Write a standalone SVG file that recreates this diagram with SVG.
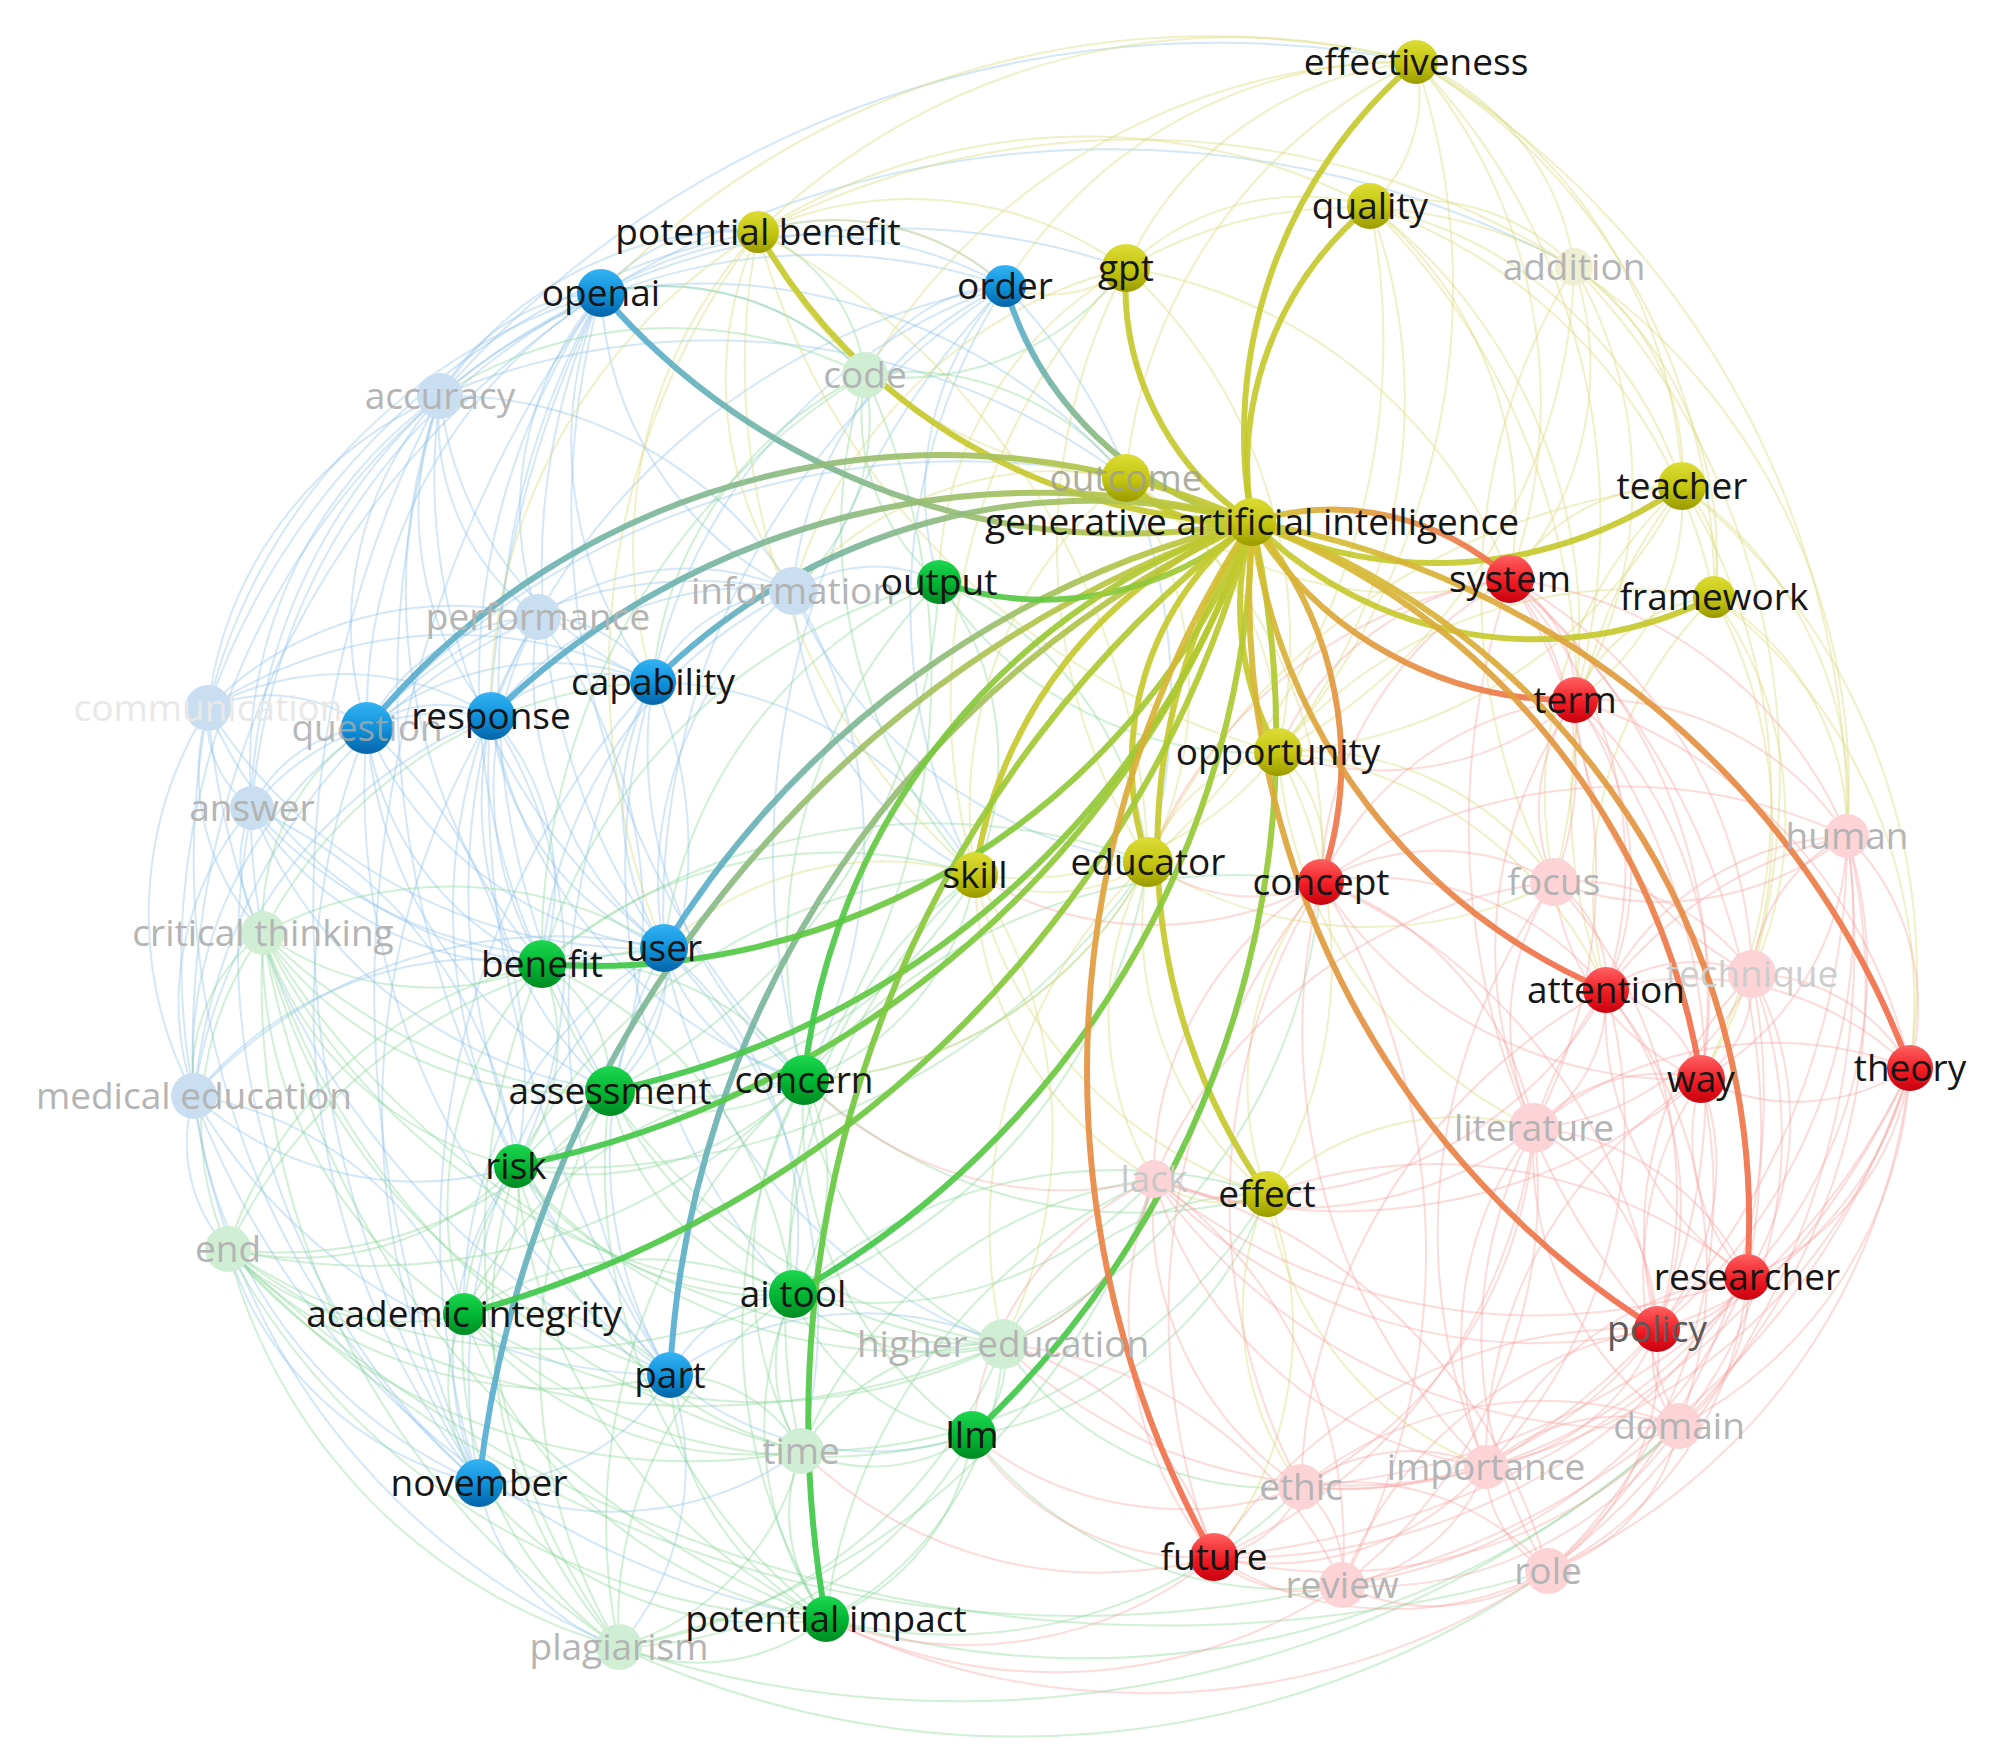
<svg xmlns="http://www.w3.org/2000/svg" width="2001" height="1746" viewBox="0 0 2001 1746">
<style>
.bb{fill:none;stroke:#8ec0ea;stroke-opacity:.38;stroke-width:2}
.bgn{fill:none;stroke:#86d496;stroke-opacity:.38;stroke-width:2}
.by{fill:none;stroke:#d8dc7c;stroke-opacity:.42;stroke-width:2}
.br{fill:none;stroke:#f6a0a0;stroke-opacity:.38;stroke-width:2}
.hl{fill:none;stroke-width:6;stroke-linecap:round;stroke-opacity:.92}
.hy{stroke:#c6c92c}
.lbl{font-family:"Open Sans","Noto Sans","Liberation Sans",sans-serif;font-size:37px;text-anchor:middle;fill:#161616}
.fl{fill:#b4b4b4}
.cy{fill:url(#ny)}.cr{fill:url(#nr)}.cg{fill:url(#ng)}.cb{fill:url(#nb)}
.fy{fill:#efefd3}.fr{fill:#fcd3d6}.fg{fill:#cfeed4}.fb{fill:#c9def1}
</style>
<defs>
<linearGradient id="ny" x1="0" y1="0" x2="0" y2="1"><stop offset="0" stop-color="#dcdc36"/><stop offset="0.55" stop-color="#c4c410"/><stop offset="1" stop-color="#9a9a00"/></linearGradient>
<linearGradient id="nr" x1="0" y1="0" x2="0" y2="1"><stop offset="0" stop-color="#ff6262"/><stop offset="0.55" stop-color="#f01c24"/><stop offset="1" stop-color="#c8000e"/></linearGradient>
<linearGradient id="ng" x1="0" y1="0" x2="0" y2="1"><stop offset="0" stop-color="#1ed650"/><stop offset="0.55" stop-color="#00b432"/><stop offset="1" stop-color="#008a22"/></linearGradient>
<linearGradient id="nb" x1="0" y1="0" x2="0" y2="1"><stop offset="0" stop-color="#34b4f4"/><stop offset="0.55" stop-color="#0e8ed8"/><stop offset="1" stop-color="#0664a8"/></linearGradient>
<linearGradient id="eB"><stop offset="0" stop-color="#c6c92c"/><stop offset="1" stop-color="#52acda"/></linearGradient>
<linearGradient id="eG"><stop offset="0" stop-color="#c6c92c"/><stop offset="1" stop-color="#36c84c"/></linearGradient>
<linearGradient id="eR"><stop offset="0" stop-color="#d2c432"/><stop offset="1" stop-color="#f4684e"/></linearGradient>
<linearGradient id="e-openai" href="#eB" gradientUnits="userSpaceOnUse" x1="1252" y1="522" x2="601" y2="293"/>
<linearGradient id="e-order" href="#eB" gradientUnits="userSpaceOnUse" x1="1252" y1="522" x2="1005" y2="286"/>
<linearGradient id="e-capability" href="#eB" gradientUnits="userSpaceOnUse" x1="1252" y1="522" x2="653" y2="682"/>
<linearGradient id="e-response" href="#eB" gradientUnits="userSpaceOnUse" x1="1252" y1="522" x2="491" y2="716"/>
<linearGradient id="e-question" href="#eB" gradientUnits="userSpaceOnUse" x1="1252" y1="522" x2="367" y2="728"/>
<linearGradient id="e-user" href="#eB" gradientUnits="userSpaceOnUse" x1="1252" y1="522" x2="664" y2="948"/>
<linearGradient id="e-part" href="#eB" gradientUnits="userSpaceOnUse" x1="1252" y1="522" x2="670" y2="1375"/>
<linearGradient id="e-november" href="#eB" gradientUnits="userSpaceOnUse" x1="1252" y1="522" x2="479" y2="1483"/>
<linearGradient id="e-output" href="#eG" gradientUnits="userSpaceOnUse" x1="1252" y1="522" x2="939" y2="582"/>
<linearGradient id="e-benefit" href="#eG" gradientUnits="userSpaceOnUse" x1="1252" y1="522" x2="542" y2="964"/>
<linearGradient id="e-assessment" href="#eG" gradientUnits="userSpaceOnUse" x1="1252" y1="522" x2="610" y2="1091"/>
<linearGradient id="e-concern" href="#eG" gradientUnits="userSpaceOnUse" x1="1252" y1="522" x2="804" y2="1080"/>
<linearGradient id="e-risk" href="#eG" gradientUnits="userSpaceOnUse" x1="1252" y1="522" x2="516" y2="1166"/>
<linearGradient id="e-academic" href="#eG" gradientUnits="userSpaceOnUse" x1="1252" y1="522" x2="464" y2="1314"/>
<linearGradient id="e-aitool" href="#eG" gradientUnits="userSpaceOnUse" x1="1252" y1="522" x2="793" y2="1294"/>
<linearGradient id="e-llm" href="#eG" gradientUnits="userSpaceOnUse" x1="1252" y1="522" x2="972" y2="1435"/>
<linearGradient id="e-pimpact" href="#eG" gradientUnits="userSpaceOnUse" x1="1252" y1="522" x2="826" y2="1619"/>
<linearGradient id="e-system" href="#eR" gradientUnits="userSpaceOnUse" x1="1252" y1="522" x2="1510" y2="579"/>
<linearGradient id="e-term" href="#eR" gradientUnits="userSpaceOnUse" x1="1252" y1="522" x2="1575" y2="700"/>
<linearGradient id="e-concept" href="#eR" gradientUnits="userSpaceOnUse" x1="1252" y1="522" x2="1321" y2="882"/>
<linearGradient id="e-attention" href="#eR" gradientUnits="userSpaceOnUse" x1="1252" y1="522" x2="1606" y2="990"/>
<linearGradient id="e-way" href="#eR" gradientUnits="userSpaceOnUse" x1="1252" y1="522" x2="1701" y2="1079"/>
<linearGradient id="e-theory" href="#eR" gradientUnits="userSpaceOnUse" x1="1252" y1="522" x2="1910" y2="1068"/>
<linearGradient id="e-researcher" href="#eR" gradientUnits="userSpaceOnUse" x1="1252" y1="522" x2="1747" y2="1277"/>
<linearGradient id="e-policy" href="#eR" gradientUnits="userSpaceOnUse" x1="1252" y1="522" x2="1657" y2="1329"/>
<linearGradient id="e-future" href="#eR" gradientUnits="userSpaceOnUse" x1="1252" y1="522" x2="1214" y2="1557"/>
</defs>
<rect width="2001" height="1746" fill="#ffffff"/>
<g id="connectors">
<g class="bb">
<path d="M440 396A191 191 0 0 1 601 293"/><path d="M440 396A389 389 0 0 0 208 708"/><path d="M440 396A340 340 0 0 0 367 728"/><path d="M440 396A324 324 0 0 0 491 716"/><path d="M440 396A453 453 0 0 0 252 808"/><path d="M440 396A742 742 0 0 0 194 1096"/><path d="M440 396A596 596 0 0 0 664 948"/><path d="M440 396A242 242 0 0 0 538 617"/><path d="M440 396A403 403 0 0 1 793 591"/><path d="M440 396A1088 1088 0 0 0 479 1483"/>
<path d="M601 293A572 572 0 0 0 208 708"/><path d="M601 293A494 494 0 0 0 367 728"/><path d="M601 293A622 622 0 0 0 252 808"/><path d="M601 293A900 900 0 0 0 194 1096"/><path d="M601 293A404 404 0 0 1 1005 286"/><path d="M601 293A330 330 0 0 0 538 617"/><path d="M601 293A392 392 0 0 0 653 682"/><path d="M601 293A354 354 0 0 0 793 591"/><path d="M601 293A658 658 0 0 0 664 948"/><path d="M601 293A1196 1196 0 0 0 479 1483"/><path d="M601 293A168 168 0 0 1 758 232"/>
<path d="M1005 286A371 371 0 0 0 793 591"/><path d="M1005 286A530 530 0 0 0 653 682"/><path d="M1005 286A670 670 0 0 0 491 716"/><path d="M1005 286A253 253 0 0 0 758 232"/><path d="M1005 286A745 745 0 0 0 664 948"/><path d="M1005 286A576 576 0 0 0 440 396"/>
<path d="M653 682A166 166 0 0 0 491 716"/><path d="M653 682A290 290 0 0 0 367 728"/><path d="M653 682A266 266 0 0 0 664 948"/><path d="M653 682A446 446 0 0 0 208 708"/><path d="M653 682A693 693 0 0 0 670 1375"/><path d="M653 682A820 820 0 0 0 479 1483"/>
<path d="M491 716A125 125 0 0 0 367 728"/><path d="M491 716A256 256 0 0 0 252 808"/><path d="M491 716A482 482 0 0 0 194 1096"/><path d="M491 716A289 289 0 0 0 664 948"/><path d="M491 716A767 767 0 0 0 479 1483"/><path d="M491 716A683 683 0 0 0 670 1375"/><path d="M491 716A283 283 0 0 0 208 708"/>
<path d="M367 728A160 160 0 0 0 208 708"/><path d="M367 728A140 140 0 0 0 252 808"/><path d="M367 728A407 407 0 0 0 194 1096"/><path d="M367 728A370 370 0 0 0 664 948"/><path d="M367 728A763 763 0 0 0 479 1483"/><path d="M367 728A714 714 0 0 0 670 1375"/>
<path d="M208 708A109 109 0 0 0 252 808"/><path d="M208 708A388 388 0 0 0 194 1096"/><path d="M208 708A821 821 0 0 0 479 1483"/><path d="M208 708A515 515 0 0 0 664 948"/>
<path d="M252 808A294 294 0 0 0 194 1096"/><path d="M252 808A712 712 0 0 0 479 1483"/><path d="M252 808A435 435 0 0 0 664 948"/>
<path d="M194 1096A481 481 0 0 0 479 1483"/><path d="M194 1096A552 552 0 0 0 670 1375"/><path d="M194 1096A493 493 0 0 1 664 948"/>
<path d="M664 948A427 427 0 0 0 670 1375"/><path d="M664 948A566 566 0 0 0 479 1483"/><path d="M670 1375A219 219 0 0 1 479 1483"/>
<path d="M538 617A204 204 0 0 0 367 728"/><path d="M538 617A342 342 0 0 0 208 708"/><path d="M538 617A590 590 0 0 0 194 1096"/>
<path d="M793 591A380 380 0 0 0 664 948"/><path d="M793 591A447 447 0 0 0 367 728"/><path d="M793 591A167 167 0 0 0 653 682"/>
<path d="M479 1483A216 216 0 0 0 619 1647"/><path d="M194 1096A157 157 0 0 0 228 1249"/><path d="M208 708A232 232 0 0 0 263 933"/><path d="M479 1483A343 343 0 0 1 228 1249"/>
<path d="M440 396A358 358 0 0 1 758 232"/><path d="M440 396A1006 1006 0 0 0 670 1375"/><path d="M601 293A1084 1084 0 0 0 670 1375"/><path d="M208 708A811 811 0 0 0 670 1375"/>
<path d="M194 1096A696 696 0 0 0 619 1647"/><path d="M194 1096A820 820 0 0 0 826 1619"/><path d="M440 396A1032 1032 0 0 1 1416 62"/><path d="M440 396A698 698 0 0 1 1126 268"/><path d="M601 293A973 973 0 0 1 1574 267"/><path d="M208 708A727 727 0 0 1 758 232"/>
<path d="M367 728A294 294 0 0 0 542 964"/><path d="M491 716A393 393 0 0 0 610 1091"/><path d="M653 682A426 426 0 0 0 804 1080"/><path d="M793 591A146 146 0 0 1 939 582"/><path d="M793 591A337 337 0 0 0 975 875"/><path d="M538 617A347 347 0 0 0 542 964"/><path d="M664 948A153 153 0 0 1 610 1091"/><path d="M664 948A192 192 0 0 0 804 1080"/><path d="M440 396A357 357 0 0 0 653 682"/><path d="M1005 286A303 303 0 0 0 939 582"/><path d="M601 293A276 276 0 0 1 865 375"/><path d="M538 617A354 354 0 0 0 664 948"/><path d="M538 617A256 256 0 0 1 793 591"/><path d="M194 1096A372 372 0 0 1 542 964"/><path d="M252 808A126 126 0 0 0 263 933"/><path d="M252 808A329 329 0 0 0 542 964"/>
<path d="M601 293A673 673 0 0 0 542 964"/><path d="M601 293A798 798 0 0 0 610 1091"/><path d="M601 293A813 813 0 0 0 804 1080"/><path d="M1005 286A590 590 0 0 0 975 875"/><path d="M1005 286A819 819 0 0 0 804 1080"/><path d="M1005 286A594 594 0 0 1 1148 862"/><path d="M653 682A375 375 0 0 1 975 875"/><path d="M653 682A628 628 0 0 0 793 1294"/><path d="M653 682A411 411 0 0 1 610 1091"/><path d="M491 716A253 253 0 0 1 542 964"/><path d="M491 716A480 480 0 0 0 804 1080"/><path d="M491 716A451 451 0 0 1 516 1166"/>
<path d="M664 948A369 369 0 0 1 793 1294"/><path d="M664 948A521 521 0 0 0 1003 1344"/><path d="M664 948A521 521 0 0 1 801 1451"/><path d="M664 948A417 417 0 0 0 464 1314"/><path d="M670 1375A147 147 0 0 1 793 1294"/><path d="M670 1375A308 308 0 0 0 972 1435"/><path d="M670 1375A277 277 0 0 1 619 1647"/><path d="M670 1375A334 334 0 0 1 1003 1344"/><path d="M479 1483A324 324 0 0 0 801 1451"/><path d="M479 1483A319 319 0 0 1 516 1166"/>
<path d="M793 591A489 489 0 0 1 804 1080"/><path d="M793 591A446 446 0 0 0 1148 862"/><path d="M793 591A450 450 0 0 0 542 964"/><path d="M538 617A479 479 0 0 1 610 1091"/><path d="M538 617A549 549 0 0 0 516 1166"/><path d="M440 396A577 577 0 0 0 542 964"/><path d="M440 396A565 565 0 0 0 263 933"/><path d="M367 728A437 437 0 0 0 610 1091"/><path d="M367 728A463 463 0 0 1 516 1166"/><path d="M208 708A421 421 0 0 0 542 964"/><path d="M194 1096A330 330 0 0 0 516 1166"/><path d="M194 1096A347 347 0 0 1 464 1314"/><path d="M252 808A456 456 0 0 0 610 1091"/><path d="M252 808A445 445 0 0 1 516 1166"/>
<path d="M1005 286A166 166 0 0 0 865 375"/><path d="M601 293A557 557 0 0 1 1126 478"/><path d="M440 396A691 691 0 0 1 1126 478"/><path d="M367 728A799 799 0 0 1 1126 478"/><path d="M491 716A327 327 0 0 1 793 591"/><path d="M653 682A132 132 0 0 0 538 617"/>
</g>
<g class="bgn">
<path d="M263 933A318 318 0 0 0 228 1249"/><path d="M263 933A281 281 0 0 0 542 964"/><path d="M263 933A381 381 0 0 0 610 1091"/><path d="M263 933A344 344 0 0 0 516 1166"/><path d="M263 933A431 431 0 0 0 464 1314"/><path d="M263 933A798 798 0 0 0 619 1647"/><path d="M263 933A561 561 0 0 0 804 1080"/><path d="M263 933A641 641 0 0 0 793 1294"/><path d="M263 933A747 747 0 0 0 801 1451"/><path d="M263 933A846 846 0 0 0 1003 1344"/>
<path d="M228 1249A245 245 0 0 0 464 1314"/><path d="M228 1249A558 558 0 0 0 619 1647"/><path d="M228 1249A300 300 0 0 0 516 1166"/><path d="M228 1249A413 413 0 0 0 610 1091"/><path d="M228 1249A424 424 0 0 1 542 964"/><path d="M228 1249A608 608 0 0 0 801 1451"/><path d="M228 1249A703 703 0 0 0 826 1619"/><path d="M228 1249A567 567 0 0 0 793 1294"/><path d="M228 1249A600 600 0 0 0 804 1080"/><path d="M228 1249A781 781 0 0 0 1003 1344"/>
<path d="M619 1647A209 209 0 0 0 826 1619"/><path d="M619 1647A267 267 0 0 0 801 1451"/><path d="M619 1647A367 367 0 0 1 464 1314"/><path d="M619 1647A492 492 0 0 1 516 1166"/><path d="M619 1647A394 394 0 0 1 793 1294"/><path d="M619 1647A412 412 0 0 0 972 1435"/><path d="M619 1647A489 489 0 0 0 1003 1344"/><path d="M619 1647A596 596 0 0 1 804 1080"/><path d="M619 1647A556 556 0 0 1 610 1091"/><path d="M619 1647A687 687 0 0 1 542 964"/>
<path d="M826 1619A170 170 0 0 1 801 1451"/><path d="M826 1619A235 235 0 0 0 972 1435"/><path d="M826 1619A327 327 0 0 0 1003 1344"/><path d="M826 1619A327 327 0 0 1 793 1294"/><path d="M826 1619A539 539 0 0 1 804 1080"/><path d="M826 1619A570 570 0 0 1 610 1091"/><path d="M826 1619A473 473 0 0 1 464 1314"/><path d="M826 1619A549 549 0 0 1 516 1166"/>
<path d="M801 1451A157 157 0 0 1 793 1294"/><path d="M801 1451A172 172 0 0 0 972 1435"/><path d="M801 1451A364 364 0 0 1 464 1314"/><path d="M801 1451A403 403 0 0 1 516 1166"/><path d="M801 1451A371 371 0 0 1 804 1080"/>
<path d="M1003 1344A216 216 0 0 1 793 1294"/><path d="M1003 1344A96 96 0 0 1 972 1435"/><path d="M1003 1344A331 331 0 0 1 804 1080"/><path d="M1003 1344A467 467 0 0 1 610 1091"/><path d="M1003 1344A518 518 0 0 1 516 1166"/><path d="M1003 1344A540 540 0 0 1 464 1314"/><path d="M1003 1344A597 597 0 0 1 542 964"/>
<path d="M972 1435A228 228 0 0 1 793 1294"/><path d="M972 1435A393 393 0 0 1 804 1080"/><path d="M972 1435A522 522 0 0 1 464 1314"/>
<path d="M793 1294A214 214 0 0 0 804 1080"/><path d="M793 1294A273 273 0 0 1 610 1091"/><path d="M793 1294A330 330 0 0 0 464 1314"/><path d="M793 1294A305 305 0 0 1 516 1166"/><path d="M793 1294A415 415 0 0 0 542 964"/>
<path d="M804 1080A194 194 0 0 1 610 1091"/><path d="M804 1080A287 287 0 0 0 542 964"/><path d="M804 1080A300 300 0 0 1 516 1166"/><path d="M804 1080A413 413 0 0 0 464 1314"/><path d="M804 1080A516 516 0 0 1 939 582"/>
<path d="M610 1091A144 144 0 0 0 542 964"/><path d="M610 1091A120 120 0 0 1 516 1166"/><path d="M610 1091A267 267 0 0 0 464 1314"/><path d="M542 964A204 204 0 0 1 516 1166"/><path d="M542 964A359 359 0 0 0 464 1314"/><path d="M516 1166A157 157 0 0 1 464 1314"/>
<path d="M939 582A220 220 0 0 1 865 375"/><path d="M939 582A551 551 0 0 0 542 964"/><path d="M939 582A606 606 0 0 1 610 1091"/><path d="M865 375A672 672 0 0 0 542 964"/><path d="M865 375A179 179 0 0 0 758 232"/><path d="M865 375A708 708 0 0 1 804 1080"/><path d="M865 375A276 276 0 0 0 601 293"/><path d="M865 375A425 425 0 0 0 440 396"/><path d="M939 582A458 458 0 0 0 664 948"/>
<path d="M263 933A401 401 0 0 1 664 948"/><path d="M263 933A230 230 0 0 1 367 728"/><path d="M263 933A177 177 0 0 0 194 1096"/><path d="M263 933A601 601 0 0 0 670 1375"/><path d="M464 1314A170 170 0 0 0 479 1483"/><path d="M464 1314A215 215 0 0 1 670 1375"/><path d="M801 1451A151 151 0 0 0 670 1375"/><path d="M826 1619A290 290 0 0 1 670 1375"/><path d="M826 1619A373 373 0 0 1 479 1483"/>
<path d="M619 1647A932 932 0 0 0 1548 1571"/><path d="M228 1249A1163 1163 0 0 0 1342 1585"/><path d="M228 1249A1359 1359 0 0 0 1548 1571"/><path d="M826 1619A875 875 0 0 0 1679 1426"/><path d="M619 1647A1083 1083 0 0 0 1679 1426"/><path d="M263 933A887 887 0 0 0 826 1619"/>
<path d="M939 582A296 296 0 0 1 975 875"/><path d="M865 375A512 512 0 0 0 975 875"/><path d="M542 964A442 442 0 0 1 975 875"/><path d="M804 1080A267 267 0 0 0 975 875"/><path d="M1003 1344A304 304 0 0 1 1267 1194"/><path d="M1003 1344A224 224 0 0 0 1154 1179"/><path d="M801 1451A229 229 0 0 1 1003 1344"/>
<path d="M804 1080A407 407 0 0 0 1148 862"/><path d="M804 1080A477 477 0 0 0 1267 1194"/><path d="M793 1294A484 484 0 0 1 1267 1194"/><path d="M793 1294A379 379 0 0 0 1154 1179"/><path d="M793 1294A457 457 0 0 1 975 875"/><path d="M972 1435A381 381 0 0 0 1267 1194"/><path d="M972 1435A399 399 0 0 0 1342 1585"/><path d="M1003 1344A331 331 0 0 0 1301 1487"/><path d="M801 1451A446 446 0 0 1 1154 1179"/><path d="M801 1451A532 532 0 0 0 1267 1194"/>
<path d="M610 1091A424 424 0 0 0 975 875"/><path d="M516 1166A543 543 0 0 1 975 875"/><path d="M516 1166A701 701 0 0 0 1148 862"/><path d="M542 964A615 615 0 0 1 1148 862"/><path d="M939 582A350 350 0 0 1 1148 862"/><path d="M939 582A379 379 0 0 0 1278 752"/><path d="M865 375A281 281 0 0 1 1126 478"/><path d="M865 375A282 282 0 0 0 1126 268"/><path d="M865 375A228 228 0 0 1 793 591"/><path d="M865 375A373 373 0 0 0 653 682"/>
<path d="M263 933A464 464 0 0 1 653 682"/><path d="M228 1249A530 530 0 0 1 664 948"/><path d="M228 1249A460 460 0 0 0 670 1375"/><path d="M619 1647A711 711 0 0 0 1154 1179"/><path d="M826 1619A493 493 0 0 0 1301 1487"/><path d="M826 1619A549 549 0 0 1 1154 1179"/><path d="M1003 1344A561 561 0 0 0 1321 882"/><path d="M801 1451A602 602 0 0 1 975 875"/><path d="M804 1080A553 553 0 0 1 1321 882"/><path d="M793 1294A559 559 0 0 0 1148 862"/>
</g>
<g class="by">
<path d="M1416 62A151 151 0 0 1 1370 206"/><path d="M1416 62A259 259 0 0 1 1574 267"/><path d="M1416 62A500 500 0 0 1 1682 486"/><path d="M1416 62A612 612 0 0 1 1714 597"/><path d="M1416 62A680 680 0 0 0 758 232"/><path d="M1416 62A356 356 0 0 0 1126 268"/><path d="M1416 62A847 847 0 0 0 601 293"/><path d="M1416 62A507 507 0 0 0 1126 478"/><path d="M1416 62A704 704 0 0 1 1278 752"/><path d="M1416 62A525 525 0 0 1 1510 579"/><path d="M1416 62A468 468 0 0 0 1005 286"/>
<path d="M1370 206A213 213 0 0 1 1574 267"/><path d="M1370 206A419 419 0 0 1 1682 486"/><path d="M1370 206A521 521 0 0 1 1714 597"/><path d="M1370 206A252 252 0 0 0 1126 268"/><path d="M1370 206A613 613 0 0 0 758 232"/><path d="M1370 206A554 554 0 0 1 1278 752"/><path d="M1370 206A693 693 0 0 1 1148 862"/><path d="M1370 206A398 398 0 0 1 1510 579"/>
<path d="M1574 267A244 244 0 0 1 1682 486"/><path d="M1574 267A358 358 0 0 1 1714 597"/><path d="M1574 267A448 448 0 0 0 1126 268"/><path d="M1574 267A817 817 0 0 0 758 232"/><path d="M1574 267A318 318 0 0 1 1510 579"/><path d="M1574 267A433 433 0 0 1 1575 700"/><path d="M1574 267A568 568 0 0 1 1278 752"/>
<path d="M1682 486A116 116 0 0 1 1714 597"/><path d="M1682 486A195 195 0 0 0 1510 579"/><path d="M1682 486A239 239 0 0 1 1575 700"/><path d="M1682 486A387 387 0 0 1 1847 836"/><path d="M1682 486A653 653 0 0 0 1148 862"/><path d="M1682 486A484 484 0 0 1 1278 752"/>
<path d="M1714 597A274 274 0 0 1 1847 836"/><path d="M1714 597A510 510 0 0 1 1910 1068"/><path d="M1714 597A379 379 0 0 1 1752 974"/><path d="M1714 597A173 173 0 0 0 1575 700"/><path d="M1714 597A463 463 0 0 0 1278 752"/>
<path d="M758 232A370 370 0 0 1 1126 268"/><path d="M758 232A443 443 0 0 0 1126 478"/><path d="M758 232A253 253 0 0 1 1005 286"/><path d="M758 232A679 679 0 0 0 975 875"/><path d="M758 232A741 741 0 0 1 1148 862"/><path d="M758 232A736 736 0 0 0 1278 752"/>
<path d="M1126 268A507 507 0 0 1 1278 752"/><path d="M1126 268A594 594 0 0 0 1148 862"/><path d="M1126 268A625 625 0 0 0 975 875"/><path d="M1126 268A122 122 0 0 1 1005 286"/>
<path d="M1126 478A425 425 0 0 0 975 875"/><path d="M1126 478A385 385 0 0 1 1148 862"/><path d="M1126 478A313 313 0 0 1 1278 752"/><path d="M1278 752A170 170 0 0 0 1148 862"/><path d="M1278 752A327 327 0 0 1 975 875"/><path d="M1278 752A442 442 0 0 1 1267 1194"/>
<path d="M1148 862A353 353 0 0 0 1267 1194"/><path d="M1148 862A173 173 0 0 1 975 875"/><path d="M975 875A432 432 0 0 0 1267 1194"/><path d="M1267 1194A114 114 0 0 1 1154 1179"/><path d="M975 875A320 320 0 0 0 664 948"/><path d="M1148 862A407 407 0 0 1 804 1080"/><path d="M1126 478A352 352 0 0 0 793 591"/>
<path d="M1574 267A631 631 0 0 1 1847 836"/><path d="M1416 62A886 886 0 0 1 1847 836"/><path d="M1682 486A625 625 0 0 1 1910 1068"/>
<path d="M1416 62A634 634 0 0 0 865 375"/><path d="M758 232A361 361 0 0 0 793 591"/><path d="M1278 752A137 137 0 0 1 1321 882"/><path d="M1148 862A317 317 0 0 0 1154 1179"/><path d="M1267 1194A317 317 0 0 1 1321 882"/><path d="M1682 486A416 416 0 0 0 1554 882"/>
<path d="M975 875A353 353 0 0 0 1154 1179"/><path d="M975 875A470 470 0 0 1 1003 1344"/><path d="M1148 862A503 503 0 0 0 1003 1344"/><path d="M1148 862A406 406 0 0 0 1554 882"/><path d="M1278 752A305 305 0 0 1 1554 882"/><path d="M1278 752A455 455 0 0 0 1534 1128"/><path d="M1278 752A405 405 0 0 1 1606 990"/><path d="M1267 1194A275 275 0 0 1 1534 1128"/><path d="M1267 1194A295 295 0 0 0 1301 1487"/><path d="M1267 1194A367 367 0 0 1 1214 1557"/><path d="M1267 1194A350 350 0 0 0 1486 1467"/>
<path d="M1126 478A397 397 0 0 0 1510 579"/><path d="M1126 478A449 449 0 0 1 1321 882"/><path d="M1126 268A494 494 0 0 1 1510 579"/><path d="M1370 206A535 535 0 0 1 1575 700"/><path d="M1370 206A700 700 0 0 1 1554 882"/><path d="M1574 267A615 615 0 0 0 1554 882"/><path d="M1574 267A729 729 0 0 1 1752 974"/><path d="M1682 486A510 510 0 0 0 1606 990"/><path d="M1714 597A408 408 0 0 0 1606 990"/><path d="M1714 597A482 482 0 0 1 1701 1079"/><path d="M1682 486A593 593 0 0 1 1701 1079"/>
<path d="M758 232A462 462 0 0 0 653 682"/><path d="M758 232A553 553 0 0 0 491 716"/><path d="M758 232A722 722 0 0 0 664 948"/><path d="M1126 268A464 464 0 0 0 793 591"/><path d="M1126 268A365 365 0 0 0 939 582"/><path d="M1416 62A658 658 0 0 1 1575 700"/>
</g>
<g class="br">
<path d="M1847 836A240 240 0 0 1 1910 1068"/><path d="M1847 836A168 168 0 0 0 1752 974"/><path d="M1847 836A283 283 0 0 1 1701 1079"/><path d="M1847 836A286 286 0 0 0 1606 990"/><path d="M1847 836A297 297 0 0 1 1554 882"/><path d="M1847 836A304 304 0 0 0 1575 700"/><path d="M1847 836A424 424 0 0 0 1510 579"/><path d="M1847 836A452 452 0 0 1 1747 1277"/><path d="M1847 836A428 428 0 0 0 1534 1128"/><path d="M1847 836A613 613 0 0 1 1679 1426"/><path d="M1847 836A528 528 0 0 1 1657 1329"/>
<path d="M1910 1068A265 265 0 0 1 1747 1277"/><path d="M1910 1068A426 426 0 0 1 1679 1426"/><path d="M1910 1068A620 620 0 0 1 1548 1571"/><path d="M1910 1068A364 364 0 0 1 1657 1329"/><path d="M1910 1068A184 184 0 0 0 1752 974"/><path d="M1910 1068A209 209 0 0 1 1701 1079"/><path d="M1910 1068A381 381 0 0 0 1534 1128"/><path d="M1910 1068A582 582 0 0 1 1486 1467"/><path d="M1910 1068A314 314 0 0 0 1606 990"/><path d="M1910 1068A498 498 0 0 0 1575 700"/>
<path d="M1747 1277A164 164 0 0 1 1679 1426"/><path d="M1747 1277A355 355 0 0 1 1548 1571"/><path d="M1747 1277A509 509 0 0 1 1342 1585"/><path d="M1747 1277A323 323 0 0 0 1486 1467"/><path d="M1747 1277A100 100 0 0 1 1657 1329"/><path d="M1747 1277A260 260 0 0 0 1534 1128"/><path d="M1747 1277A204 204 0 0 1 1701 1079"/><path d="M1747 1277A602 602 0 0 1 1214 1557"/><path d="M1747 1277A493 493 0 0 1 1301 1487"/>
<path d="M1679 1426A195 195 0 0 1 1548 1571"/><path d="M1679 1426A373 373 0 0 1 1342 1585"/><path d="M1679 1426A483 483 0 0 1 1214 1557"/><path d="M1679 1426A200 200 0 0 0 1486 1467"/><path d="M1679 1426A383 383 0 0 0 1301 1487"/><path d="M1679 1426A331 331 0 0 1 1534 1128"/>
<path d="M1548 1571A206 206 0 0 1 1342 1585"/><path d="M1548 1571A334 334 0 0 1 1214 1557"/><path d="M1548 1571A261 261 0 0 0 1301 1487"/><path d="M1548 1571A120 120 0 0 1 1486 1467"/><path d="M1548 1571A724 724 0 0 1 826 1619"/>
<path d="M1342 1585A131 131 0 0 1 1214 1557"/><path d="M1342 1585A110 110 0 0 0 1301 1487"/><path d="M1342 1585A517 517 0 0 1 826 1619"/><path d="M1342 1585A448 448 0 0 0 1154 1179"/>
<path d="M1214 1557A112 112 0 0 0 1301 1487"/><path d="M1214 1557A383 383 0 0 1 1154 1179"/><path d="M1214 1557A393 393 0 0 1 826 1619"/><path d="M1214 1557A271 271 0 0 1 972 1435"/><path d="M1214 1557A283 283 0 0 0 1486 1467"/>
<path d="M1301 1487A186 186 0 0 1 1486 1467"/><path d="M1301 1487A333 333 0 0 1 1154 1179"/><path d="M1301 1487A428 428 0 0 0 1534 1128"/><path d="M1486 1467A342 342 0 0 1 1534 1128"/><path d="M1486 1467A220 220 0 0 0 1657 1329"/><path d="M1486 1467A408 408 0 0 1 1154 1179"/>
<path d="M1534 1128A247 247 0 0 1 1554 882"/><path d="M1534 1128A156 156 0 0 0 1606 990"/><path d="M1534 1128A172 172 0 0 1 1701 1079"/><path d="M1534 1128A326 326 0 0 0 1321 882"/><path d="M1534 1128A384 384 0 0 1 1154 1179"/><path d="M1534 1128A265 265 0 0 0 1752 974"/>
<path d="M1554 882A306 306 0 0 0 1510 579"/><path d="M1554 882A183 183 0 0 1 1575 700"/><path d="M1554 882A233 233 0 0 0 1321 882"/><path d="M1554 882A218 218 0 0 1 1752 974"/><path d="M1554 882A243 243 0 0 0 1701 1079"/><path d="M1554 882A459 459 0 0 1 1657 1329"/>
<path d="M1752 974A327 327 0 0 1 1575 700"/><path d="M1752 974A150 150 0 0 0 1606 990"/><path d="M1752 974A303 303 0 0 1 1747 1277"/><path d="M1752 974A364 364 0 0 0 1657 1329"/><path d="M1752 974A464 464 0 0 0 1510 579"/>
<path d="M1606 990A343 343 0 0 1 1657 1329"/><path d="M1606 990A300 300 0 0 0 1321 882"/><path d="M1575 700A313 313 0 0 0 1321 882"/><path d="M1575 700A400 400 0 0 1 1701 1079"/><path d="M1510 579A357 357 0 0 0 1321 882"/><path d="M1510 579A138 138 0 0 1 1575 700"/><path d="M1510 579A536 536 0 0 1 1701 1079"/>
<path d="M1321 882A341 341 0 0 0 1154 1179"/><path d="M1321 882A560 560 0 0 1 1657 1329"/><path d="M1321 882A605 605 0 0 0 1301 1487"/><path d="M1154 1179A525 525 0 0 0 1657 1329"/><path d="M1154 1179A224 224 0 0 1 1003 1344"/><path d="M1154 1179A314 314 0 0 0 972 1435"/>
<path d="M1214 1557A300 300 0 0 0 1003 1344"/><path d="M1214 1557A427 427 0 0 1 801 1451"/><path d="M1701 1079A254 254 0 0 1 1657 1329"/><path d="M1701 1079A350 350 0 0 0 1679 1426"/><path d="M1510 579A411 411 0 0 1 1606 990"/><path d="M1657 1329A265 265 0 0 1 1548 1571"/><path d="M1657 1329A406 406 0 0 0 1342 1585"/>
<path d="M1847 836A793 793 0 0 1 1548 1571"/><path d="M1910 1068A768 768 0 0 1 1342 1585"/><path d="M1910 1068A851 851 0 0 1 1214 1557"/>
<path d="M1321 882A174 174 0 0 1 1148 862"/><path d="M1510 579A289 289 0 0 0 1278 752"/><path d="M1575 700A302 302 0 0 1 1278 752"/><path d="M1154 1179A364 364 0 0 1 804 1080"/><path d="M1301 1487A333 333 0 0 1 972 1435"/><path d="M1486 1467A498 498 0 0 1 1003 1344"/><path d="M1342 1585A416 416 0 0 0 1003 1344"/>
<path d="M1510 579A549 549 0 0 1 1534 1128"/><path d="M1510 579A459 459 0 0 0 1148 862"/><path d="M1575 700A430 430 0 0 0 1534 1128"/><path d="M1575 700A292 292 0 0 1 1606 990"/><path d="M1321 882A703 703 0 0 1 1342 1585"/><path d="M1321 882A608 608 0 0 0 1486 1467"/><path d="M1321 882A428 428 0 0 0 1701 1079"/><path d="M1321 882A683 683 0 0 0 1214 1557"/><path d="M1606 990A130 130 0 0 1 1701 1079"/><path d="M1606 990A320 320 0 0 0 1747 1277"/><path d="M1606 990A492 492 0 0 1 1486 1467"/><path d="M1606 990A583 583 0 0 0 1301 1487"/><path d="M1606 990A442 442 0 0 1 1679 1426"/>
<path d="M1701 1079A556 556 0 0 1 1154 1179"/><path d="M1701 1079A444 444 0 0 0 1486 1467"/><path d="M1701 1079A515 515 0 0 1 1548 1571"/><path d="M1701 1079A117 117 0 0 0 1752 974"/><path d="M1657 1329A236 236 0 0 0 1534 1128"/><path d="M1657 1329A390 390 0 0 1 1301 1487"/><path d="M1657 1329A100 100 0 0 0 1679 1426"/><path d="M1657 1329A498 498 0 0 0 1214 1557"/><path d="M1534 1128A496 496 0 0 1 1342 1585"/><path d="M1534 1128A443 443 0 0 0 1548 1571"/><path d="M1534 1128A535 535 0 0 1 1214 1557"/>
<path d="M1554 882A498 498 0 0 0 1154 1179"/><path d="M1554 882A120 120 0 0 1 1606 990"/><path d="M1554 882A589 589 0 0 0 1486 1467"/><path d="M1752 974A458 458 0 0 1 1679 1426"/><path d="M1752 974A631 631 0 0 1 1548 1571"/><path d="M1847 836A727 727 0 0 1 1486 1467"/><path d="M1847 836A528 528 0 0 0 1321 882"/><path d="M1486 1467A186 186 0 0 1 1342 1585"/><path d="M1154 1179A556 556 0 0 1 1548 1571"/><path d="M1154 1179A580 580 0 0 0 1679 1426"/><path d="M1747 1277A601 601 0 0 1 1154 1179"/><path d="M1910 1068A739 739 0 0 1 1301 1487"/>
<path d="M1510 579A737 737 0 0 1 1747 1277"/><path d="M1575 700A634 634 0 0 1 1657 1329"/><path d="M1510 579A764 764 0 0 0 1657 1329"/><path d="M1321 882A346 346 0 0 1 975 875"/><path d="M1606 990A396 396 0 0 1 1267 1194"/><path d="M1747 1277A487 487 0 0 0 1267 1194"/>
</g>
<g id="highlighted-links">
<path class="hl hy" d="M1252 522A573 573 0 0 1 758 232"/>
<path class="hl hy" d="M1252 522A284 284 0 0 1 1126 268"/>
<path class="hl hy" d="M1252 522A488 488 0 0 1 1416 62"/>
<path class="hl hy" d="M1252 522A337 337 0 0 1 1370 206"/>
<path class="hl hy" d="M1252 522A133 133 0 0 1 1126 478"/>
<path class="hl hy" d="M1252 522A432 432 0 0 0 1682 486"/>
<path class="hl hy" d="M1252 522A400 400 0 0 0 1714 597"/>
<path class="hl hy" d="M1252 522A605 605 0 0 0 1267 1194"/>
<path class="hl hy" d="M1252 522A303 303 0 0 0 1148 862"/>
<path class="hl hy" d="M1252 522A300 300 0 0 0 1278 752"/>
<path class="hl hy" d="M1252 522A449 449 0 0 0 975 875"/>
<path class="hl" stroke="url(#e-openai)" d="M1252 522A690 690 0 0 1 601 293"/>
<path class="hl" stroke="url(#e-order)" d="M1252 522A342 342 0 0 1 1005 286"/>
<path class="hl" stroke="url(#e-capability)" d="M1252 522A620 620 0 0 0 653 682"/>
<path class="hl" stroke="url(#e-response)" d="M1252 522A785 785 0 0 0 491 716"/>
<path class="hl" stroke="url(#e-question)" d="M1252 522A745 745 0 0 0 367 728"/>
<path class="hl" stroke="url(#e-user)" d="M1252 522A944 944 0 0 0 664 948"/>
<path class="hl" stroke="url(#e-part)" d="M1252 522A990 990 0 0 0 670 1375"/>
<path class="hl" stroke="url(#e-november)" d="M1252 522A1150 1150 0 0 0 479 1483"/>
<path class="hl" stroke="url(#e-output)" d="M1252 522A319 319 0 0 1 939 582"/>
<path class="hl" stroke="url(#e-benefit)" d="M1252 522A710 710 0 0 1 542 964"/>
<path class="hl" stroke="url(#e-assessment)" d="M1252 522A858 858 0 0 1 610 1091"/>
<path class="hl" stroke="url(#e-concern)" d="M1252 522A660 660 0 0 0 804 1080"/>
<path class="hl" stroke="url(#e-risk)" d="M1252 522A978 978 0 0 1 516 1166"/>
<path class="hl" stroke="url(#e-academic)" d="M1252 522A1117 1117 0 0 1 464 1314"/>
<path class="hl" stroke="url(#e-aitool)" d="M1252 522A898 898 0 0 1 793 1294"/>
<path class="hl" stroke="url(#e-llm)" d="M1252 522A955 955 0 0 1 972 1435"/>
<path class="hl" stroke="url(#e-pimpact)" d="M1252 522A1130 1130 0 0 0 826 1619"/>
<path class="hl" stroke="url(#e-system)" d="M1252 522A264 264 0 0 1 1510 579"/>
<path class="hl" stroke="url(#e-term)" d="M1252 522A369 369 0 0 0 1575 700"/>
<path class="hl" stroke="url(#e-concept)" d="M1252 522A367 367 0 0 1 1321 882"/>
<path class="hl" stroke="url(#e-attention)" d="M1252 522A587 587 0 0 0 1606 990"/>
<path class="hl" stroke="url(#e-way)" d="M1252 522A715 715 0 0 1 1701 1079"/>
<path class="hl" stroke="url(#e-researcher)" d="M1252 522A740 740 0 0 1 1747 1277"/>
<path class="hl" stroke="url(#e-theory)" d="M1252 522A855 855 0 0 1 1910 1068"/>
<path class="hl" stroke="url(#e-policy)" d="M1252 522A870 870 0 0 0 1657 1329"/>
<path class="hl" stroke="url(#e-future)" d="M1252 522A995 995 0 0 0 1214 1557"/>
</g>
</g>
<g id="nodes">
<g id="node-addition"><circle class="fy" cx="1574" cy="267" r="19"/><text class="lbl fl" x="1574" y="280">addition</text></g>
<g id="node-accuracy"><circle class="fb" cx="440" cy="396" r="23"/><text class="lbl fl" x="440" y="409">accuracy</text></g>
<g id="node-performance"><circle class="fb" cx="538" cy="617" r="23"/><text class="lbl fl" x="538" y="630">performance</text></g>
<g id="node-information"><circle class="fb" cx="793" cy="591" r="24"/><text class="lbl fl" x="793" y="604">information</text></g>
<g id="node-communication"><circle class="fb" cx="208" cy="708" r="23"/><text class="lbl" x="208" y="721" style="fill:#e8e8e8">communication</text></g>
<g id="node-answer"><circle class="fb" cx="252" cy="808" r="22"/><text class="lbl fl" x="252" y="821">answer</text></g>
<g id="node-medical-education"><circle class="fb" cx="194" cy="1096" r="23"/><text class="lbl fl" x="194" y="1109">medical education</text></g>
<g id="node-code"><circle class="fg" cx="865" cy="375" r="23"/><text class="lbl fl" x="865" y="388">code</text></g>
<g id="node-critical-thinking"><circle class="fg" cx="263" cy="933" r="22"/><text class="lbl fl" x="263" y="946">critical thinking</text></g>
<g id="node-end"><circle class="fg" cx="228" cy="1249" r="23"/><text class="lbl fl" x="228" y="1262">end</text></g>
<g id="node-higher-education"><circle class="fg" cx="1003" cy="1344" r="25"/><text class="lbl fl" x="1003" y="1357">higher education</text></g>
<g id="node-time"><circle class="fg" cx="801" cy="1451" r="23"/><text class="lbl fl" x="801" y="1464">time</text></g>
<g id="node-plagiarism"><circle class="fg" cx="619" cy="1647" r="23"/><text class="lbl fl" x="619" y="1660">plagiarism</text></g>
<g id="node-human"><circle class="fr" cx="1847" cy="836" r="22"/><text class="lbl fl" x="1847" y="849">human</text></g>
<g id="node-focus"><circle class="fr" cx="1554" cy="882" r="24"/><text class="lbl fl" x="1554" y="895">focus</text></g>
<g id="node-technique"><circle class="fr" cx="1752" cy="974" r="24"/><text class="lbl" x="1752" y="987" style="fill:#cdcdcd">technique</text></g>
<g id="node-literature"><circle class="fr" cx="1534" cy="1128" r="25"/><text class="lbl fl" x="1534" y="1141">literature</text></g>
<g id="node-lack"><circle class="fr" cx="1154" cy="1179" r="19"/><text class="lbl" x="1154" y="1192" style="fill:#c8c8c8">lack</text></g>
<g id="node-ethic"><circle class="fr" cx="1301" cy="1487" r="23"/><text class="lbl fl" x="1301" y="1500">ethic</text></g>
<g id="node-importance"><circle class="fr" cx="1486" cy="1467" r="22"/><text class="lbl fl" x="1486" y="1480">importance</text></g>
<g id="node-domain"><circle class="fr" cx="1679" cy="1426" r="23"/><text class="lbl fl" x="1679" y="1439">domain</text></g>
<g id="node-role"><circle class="fr" cx="1548" cy="1571" r="23"/><text class="lbl fl" x="1548" y="1584">role</text></g>
<g id="node-review"><circle class="fr" cx="1342" cy="1585" r="23"/><text class="lbl fl" x="1342" y="1598">review</text></g>
<g id="node-question"><circle class="cb" cx="367" cy="728" r="26"/><text class="lbl" x="367" y="741" style="fill:#a8a8a8" opacity="0.8">question</text></g>
<g id="node-outcome"><circle class="cy" cx="1126" cy="478" r="24"/><text class="lbl" x="1126" y="491" style="fill:#a0a090" opacity="0.85">outcome</text></g>
<g id="node-openai"><circle class="cb" cx="601" cy="293" r="24"/><text class="lbl" x="601" y="306">openai</text></g>
<g id="node-order"><circle class="cb" cx="1005" cy="286" r="21"/><text class="lbl" x="1005" y="299">order</text></g>
<g id="node-capability"><circle class="cb" cx="653" cy="682" r="23"/><text class="lbl" x="653" y="695">capability</text></g>
<g id="node-response"><circle class="cb" cx="491" cy="716" r="24"/><text class="lbl" x="491" y="729">response</text></g>
<g id="node-user"><circle class="cb" cx="664" cy="948" r="24"/><text class="lbl" x="664" y="961">user</text></g>
<g id="node-part"><circle class="cb" cx="670" cy="1375" r="23"/><text class="lbl" x="670" y="1388">part</text></g>
<g id="node-november"><circle class="cb" cx="479" cy="1483" r="24"/><text class="lbl" x="479" y="1496">november</text></g>
<g id="node-output"><circle class="cg" cx="939" cy="582" r="22"/><text class="lbl" x="939" y="595">output</text></g>
<g id="node-benefit"><circle class="cg" cx="542" cy="964" r="24"/><text class="lbl" x="542" y="977">benefit</text></g>
<g id="node-assessment"><circle class="cg" cx="610" cy="1091" r="25"/><text class="lbl" x="610" y="1104">assessment</text></g>
<g id="node-concern"><circle class="cg" cx="804" cy="1080" r="25"/><text class="lbl" x="804" y="1093">concern</text></g>
<g id="node-risk"><circle class="cg" cx="516" cy="1166" r="22"/><text class="lbl" x="516" y="1179">risk</text></g>
<g id="node-academic-integrity"><circle class="cg" cx="464" cy="1314" r="21"/><text class="lbl" x="464" y="1327">academic integrity</text></g>
<g id="node-ai-tool"><circle class="cg" cx="793" cy="1294" r="24"/><text class="lbl" x="793" y="1307">ai tool</text></g>
<g id="node-llm"><circle class="cg" cx="972" cy="1435" r="24"/><text class="lbl" x="972" y="1448">llm</text></g>
<g id="node-potential-impact"><circle class="cg" cx="826" cy="1619" r="23"/><text class="lbl" x="826" y="1632">potential impact</text></g>
<g id="node-system"><circle class="cr" cx="1510" cy="579" r="24"/><text class="lbl" x="1510" y="592">system</text></g>
<g id="node-term"><circle class="cr" cx="1575" cy="700" r="23"/><text class="lbl" x="1575" y="713">term</text></g>
<g id="node-concept"><circle class="cr" cx="1321" cy="882" r="23"/><text class="lbl" x="1321" y="895">concept</text></g>
<g id="node-attention"><circle class="cr" cx="1606" cy="990" r="23"/><text class="lbl" x="1606" y="1003">attention</text></g>
<g id="node-way"><circle class="cr" cx="1701" cy="1079" r="24"/><text class="lbl" x="1701" y="1092">way</text></g>
<g id="node-theory"><circle class="cr" cx="1910" cy="1068" r="23"/><text class="lbl" x="1910" y="1081">theory</text></g>
<g id="node-researcher"><circle class="cr" cx="1747" cy="1277" r="23"/><text class="lbl" x="1747" y="1290">researcher</text></g>
<g id="node-policy"><circle class="cr" cx="1657" cy="1329" r="23"/><text class="lbl" x="1657" y="1342" style="fill:#5a5a5a">policy</text></g>
<g id="node-future"><circle class="cr" cx="1214" cy="1557" r="24"/><text class="lbl" x="1214" y="1570">future</text></g>
<g id="node-effectiveness"><circle class="cy" cx="1416" cy="62" r="22"/><text class="lbl" x="1416" y="75">effectiveness</text></g>
<g id="node-quality"><circle class="cy" cx="1370" cy="206" r="23"/><text class="lbl" x="1370" y="219">quality</text></g>
<g id="node-gpt"><circle class="cy" cx="1126" cy="268" r="24"/><text class="lbl" x="1126" y="281">gpt</text></g>
<g id="node-potential-benefit"><circle class="cy" cx="758" cy="232" r="21"/><text class="lbl" x="758" y="245">potential benefit</text></g>
<g id="node-teacher"><circle class="cy" cx="1682" cy="486" r="24"/><text class="lbl" x="1682" y="499">teacher</text></g>
<g id="node-framework"><circle class="cy" cx="1714" cy="597" r="21"/><text class="lbl" x="1714" y="610">framework</text></g>
<g id="node-opportunity"><circle class="cy" cx="1278" cy="752" r="24"/><text class="lbl" x="1278" y="765">opportunity</text></g>
<g id="node-skill"><circle class="cy" cx="975" cy="875" r="23"/><text class="lbl" x="975" y="888">skill</text></g>
<g id="node-educator"><circle class="cy" cx="1148" cy="862" r="25"/><text class="lbl" x="1148" y="875">educator</text></g>
<g id="node-effect"><circle class="cy" cx="1267" cy="1194" r="23"/><text class="lbl" x="1267" y="1207">effect</text></g>
<g id="node-generative-artificial-intelligence"><circle class="cy" cx="1252" cy="522" r="24"/><text class="lbl" x="1252" y="535">generative artificial intelligence</text></g>
</g>
</svg>
